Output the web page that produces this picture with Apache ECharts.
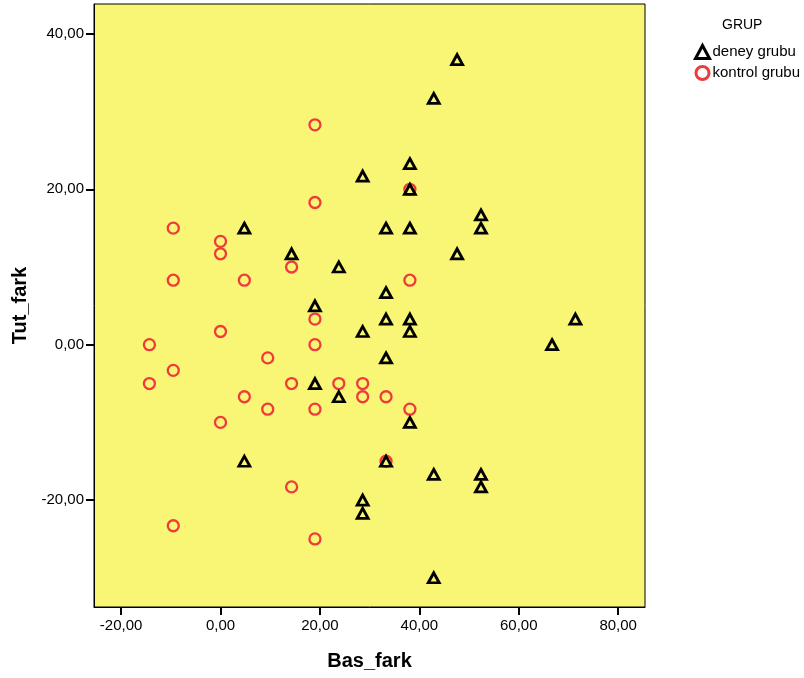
<!DOCTYPE html>
<html>
<head>
<meta charset="utf-8">
<script src="https://cdn.jsdelivr.net/npm/echarts@6/dist/echarts.min.js"></script>
<style>html,body{margin:0;padding:0;background:#fff}#c{width:804px;height:678px}</style>
</head>
<body>
<div id="c"></div>
<script>
var xTicks = [-20, 0, 20, 40, 60, 80];
var yTicks = [-20, 0, 20, 40];
var deneyX = [47.6, 42.9, 38.1, 28.6, 38.1, 52.4, 4.8, 33.3, 38.1, 52.4, 14.3, 47.6, 23.8, 33.3, 19.0, 33.3, 38.1, 71.4, 28.6, 38.1, 66.7, 33.3, 19.0, 23.8, 38.1, 4.8, 33.3, 42.9, 52.4, 52.4, 28.6, 28.6, 42.9];
var deneyY = [36.7, 31.7, 23.3, 21.7, 20.0, 16.7, 15.0, 15.0, 15.0, 15.0, 11.7, 11.7, 10.0, 6.7, 5.0, 3.3, 3.3, 3.3, 1.7, 1.7, 0.0, -1.7, -5.0, -6.7, -10.0, -15.0, -15.0, -16.7, -16.7, -18.3, -20.0, -21.7, -30.0];
var kontrolX = [-14.3, -14.3, -9.5, -9.5, -9.5, -9.5, 0, 0, 0, 0, 4.8, 4.8, 9.5, 9.5, 14.3, 14.3, 14.3, 19.0, 19.0, 19.0, 19.0, 19.0, 19.0, 23.8, 28.6, 28.6, 33.3, 33.3, 38.1, 38.1, 38.1];
var kontrolY = [0.0, -5.0, 15.0, 8.3, -3.3, -23.3, 13.3, 11.7, 1.7, -10.0, 8.3, -6.7, -1.7, -8.3, 10.0, -5.0, -18.3, 28.3, 18.3, 3.3, 0.0, -8.3, -25.0, -5.0, -5.0, -6.7, -6.7, -15.0, 20.0, 8.3, -8.3];
var groupNames = ['deney grubu', 'kontrol grubu'];
var legendTitle = 'GRUP';
var xName = 'Bas_fark';
var yName = 'Tut_fark';

function zip(a, b) { return a.map(function (v, i) { return [v, b[i]]; }); }
function fmt(v) { return v.toFixed(2).replace('.', ','); }

var FONT = '"Liberation Sans", Arial, sans-serif';
var chart = echarts.init(document.getElementById('c'), null, { renderer: 'canvas' });
chart.setOption({
  backgroundColor: '#ffffff',
  animation: false,
  textStyle: { fontFamily: FONT },
  title: {
    text: legendTitle, left: 717, top: 13,
    textStyle: { fontFamily: FONT, fontSize: 14, fontWeight: 'normal', color: '#000' }
  },
  legend: {
    orient: 'vertical', left: 689, top: 39,
    itemWidth: 14, itemHeight: 13, itemGap: 5,
    textStyle: { fontFamily: FONT, fontSize: 15, color: '#000', padding: [0, 0, 0, -2] },
    data: [
      { name: groupNames[0], itemStyle: { color: 'transparent', borderColor: '#000', borderWidth: 3 } },
      { name: groupNames[1], itemStyle: { color: 'transparent', borderColor: '#EE3B3B', borderWidth: 3 } }
    ]
  },
  grid: {
    left: 94, top: 4, right: 159, bottom: 71,
    show: true, backgroundColor: '#FAF675', borderColor: '#000', borderWidth: 1
  },
  xAxis: {
    type: 'value', min: -25.45, max: 85.4,
    name: xName, nameLocation: 'middle', nameGap: 44,
    nameTextStyle: { fontFamily: FONT, fontSize: 20, fontWeight: 'bold', color: '#000' },
    axisLine: { show: true, onZero: false, lineStyle: { color: '#000', width: 1 } },
    axisTick: { show: true, length: 8, customValues: xTicks, lineStyle: { color: '#000', width: 2 } },
    axisLabel: { customValues: xTicks, formatter: fmt, fontFamily: FONT, fontSize: 15, color: '#000', margin: 11 },
    splitLine: { show: false }
  },
  yAxis: {
    type: 'value', min: -33.76, max: 43.85,
    name: yName, nameLocation: 'middle', nameGap: 58, nameRotate: 90,
    nameTextStyle: { fontFamily: FONT, fontSize: 20, fontWeight: 'bold', color: '#000' },
    axisLine: { show: true, onZero: false, lineStyle: { color: '#000', width: 1 } },
    axisTick: { show: true, length: 8, customValues: yTicks, lineStyle: { color: '#000', width: 2 } },
    axisLabel: { customValues: yTicks, formatter: fmt, fontFamily: FONT, fontSize: 15, color: '#000', margin: 10 },
    splitLine: { show: false }
  },
  series: [
    {
      name: groupNames[1], type: 'scatter', symbol: 'circle', symbolSize: 11, z: 2,
      itemStyle: { color: 'transparent', borderColor: '#EE3B3B', borderWidth: 2.3, opacity: 1 },
      data: zip(kontrolX, kontrolY)
    },
    {
      name: groupNames[0], type: 'scatter', symbol: 'triangle', symbolSize: [11, 10], z: 3,
      itemStyle: { color: 'transparent', borderColor: '#000', borderWidth: 2.8, opacity: 1 },
      data: zip(deneyX, deneyY)
    }
  ]
});
</script>
</body>
</html>
